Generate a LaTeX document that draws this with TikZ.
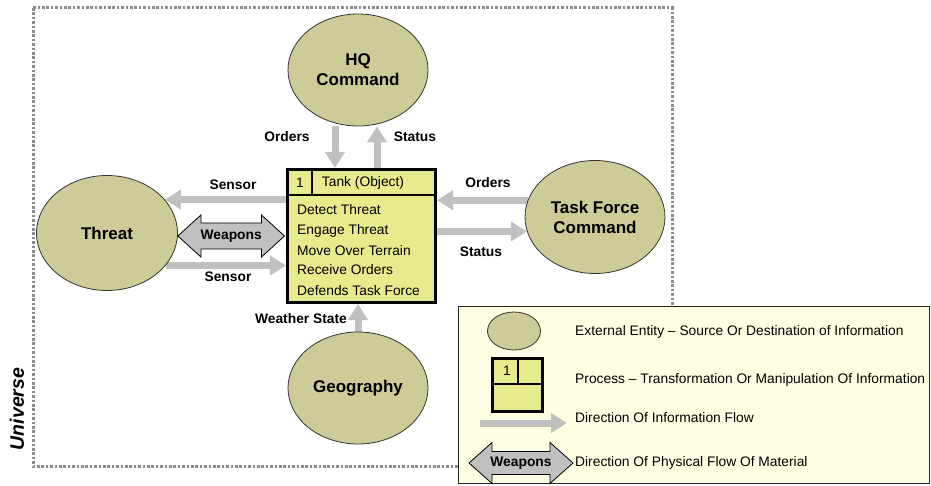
\documentclass[tikz,border=0pt]{standalone}
\usepackage{fontspec}
\setmainfont{Liberation Sans}
\usetikzlibrary{shapes.geometric,arrows.meta,calc}
\definecolor{entfill}{RGB}{204,204,153}
\definecolor{procfill}{RGB}{230,236,140}
\definecolor{infogray}{RGB}{192,192,192}
\definecolor{legbg}{RGB}{255,255,228}
\definecolor{framegray}{RGB}{140,140,140}
\newcommand\myEntFont{\fontsize{17}{20}\selectfont\bfseries}
\newcommand\myLblFont{\fontsize{13.8}{15}\selectfont\bfseries}
\newcommand\myBoxFont{\fontsize{13.8}{15}\selectfont}
\pgfdeclarelayer{bg}
\pgfsetlayers{bg,main}
\tikzset{
  entity/.style={ellipse, draw=black!80, line width=0.8pt, fill=entfill, font=\myEntFont, align=center, inner sep=0pt},
  procbox/.style={rectangle, draw=black, line width=3pt, fill=procfill, inner sep=0pt},
  info/.style={draw=infogray, line width=7pt, -{Triangle[width=19pt,length=16pt]}},
  weap/.style={draw=black, line width=0.8pt, fill=infogray},
  lbl/.style={font=\myLblFont, inner sep=0pt},
  boxtxt/.style={font=\myBoxFont, inner sep=0pt},
  legtxt/.style={font=\myBoxFont, inner sep=0pt, anchor=west},
}
\begin{document}
\begin{tikzpicture}[x=1pt,y=-1pt]
\useasboundingbox (0,0) rectangle (931,486);
% universe frame
\draw[framegray, line width=3pt, dash pattern=on 2.6pt off 1.8pt] (33,8) rectangle (672,466);
\node[rotate=90, font=\fontsize{19.5}{22}\selectfont\bfseries\itshape, inner sep=0pt] (univ) at (17,409) {Universe};

% entities
\node[entity, minimum width=140pt, minimum height=112pt] (hq) at (358,70) {HQ\\Command};
\node[entity, minimum width=141pt, minimum height=115pt] (threat) at (107,233) {Threat};
\node[entity, minimum width=140pt, minimum height=113pt] (tf) at (595,217) {Task Force\\Command};
\node[entity, minimum width=140pt, minimum height=112pt] (geo) at (358,388) {Geography};

% process box
\node[procbox, minimum width=148pt, minimum height=133pt] (tank) at (361.5,236) {};
\draw[line width=1.2pt] (tank.west |- 0,195) -- (tank.east |- 0,195);
\draw[line width=1.2pt] ($(tank.north west)+(26,0)$) -- ($(tank.north west)+(26,27)$);
\node[boxtxt] (tnum) at (300,183) {1};
\node[boxtxt] (tname) at (363,183) {Tank (Object)};
\node[boxtxt, anchor=base west] (f1) at (297,215) {Detect Threat};
\node[boxtxt, anchor=base west] (f2) at (297,235) {Engage Threat};
\node[boxtxt, anchor=base west] (f3) at (297,255) {Move Over Terrain};
\node[boxtxt, anchor=base west] (f4) at (297,275) {Receive Orders};
\node[boxtxt, anchor=base west] (f5) at (297,295) {Defends Task Force};

% information flows
\begin{pgfonlayer}{bg}
\draw[info] (hq.south -| 335,0) -- (tank.north -| 335,0);
\draw[info] (tank.north -| 377,0) -- (hq.south -| 377,0);
\draw[info] (tank.west |- threat.30) -- (threat.30);
\draw[info] (threat.-29) -- (tank.west |- threat.-29);
\draw[info] (tf.166) -- (tank.east |- tf.166);
\draw[info] (tank.east |- tf.192) -- (tf.192);
\draw[info] (geo.north) -- (tank.south -| geo.north);
\end{pgfonlayer}

% weapons
\coordinate (wL) at (threat.east |- 0,236);
\coordinate (wR) at ([xshift=-1.5pt]tank.west |- 0,236);
\draw[weap] (wL) -- ++(23,-21) -- ++(0,8) -- ($(wR)+(-23,-13)$) -- ++(0,-8) -- (wR) -- ++(-23,21) -- ++(0,-8) -- ($(wL)+(23,13)$) -- ++(0,8) -- cycle;
\node[lbl] (wlab) at ($(wL)!0.5!(wR)$) {Weapons};

% labels
\node[lbl] (lorders1) at (287,137) {Orders};
\node[lbl] (lstatus1) at (415,137) {Status};
\node[lbl] (lsensor1) at (233,185) {Sensor};
\node[lbl] (lsensor2) at (228,277) {Sensor};
\node[lbl] (lorders2) at (488,183) {Orders};
\node[lbl] (lstatus2) at (481,252) {Status};
\node[lbl] (lweather) at (301,319) {Weather State};

% legend
\node[draw=black!85, line width=0.9pt, fill=legbg, minimum width=471pt, minimum height=177pt, inner sep=0pt] (legend) at (693.5,394.5) {};
\node[entity, minimum width=53pt, minimum height=38pt] (lent) at (514,331) {};
\node[procbox, minimum width=50pt, minimum height=53pt] (lproc) at (517.5,385) {};
\draw[line width=1.2pt] (lproc.west |- 0,384) -- (lproc.east |- 0,384);
\draw[line width=1.2pt] (lproc.north -| 518,0) -- (518,384);
\node[boxtxt] (lpnum) at (507,371) {1};
\coordinate (liA) at (480,423);
\coordinate (liB) at (567,423);
\draw[info] (liA) -- (liB);
\coordinate (lwL) at (469,463);
\coordinate (lwR) at (573,463);
\draw[weap] (lwL) -- ++(23,-20.5) -- ++(0,9) -- ($(lwR)+(-23,-11.5)$) -- ++(0,-9) -- (lwR) -- ++(-23,20.5) -- ++(0,-9) -- ($(lwL)+(23,11.5)$) -- ++(0,9) -- cycle;
\node[lbl] (lwlab) at ($(lwL)!0.5!(lwR)$) {Weapons};
\node[legtxt] (lt1) at (575,332) {External Entity – Source Or Destination of Information};
\node[legtxt] (lt2) at (575,380) {Process – Transformation Or Manipulation Of Information};
\node[legtxt] (lt3) at (575,418) {Direction Of Information Flow};
\node[legtxt] (lt4) at (575,463) {Direction Of Physical Flow Of Material};
\end{tikzpicture}
\end{document}
